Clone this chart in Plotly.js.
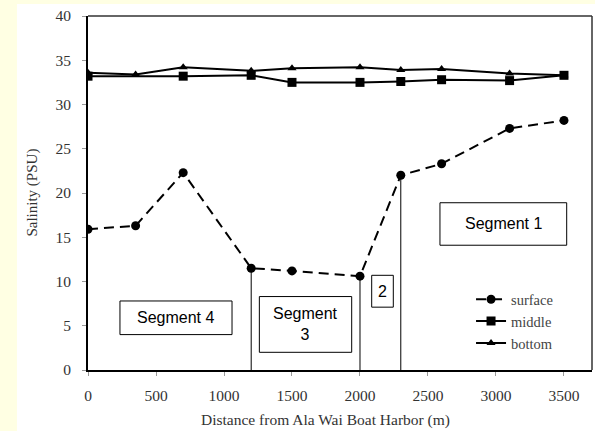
<!DOCTYPE html>
<html>
<head>
<meta charset="utf-8">
<script src="https://cdn.plot.ly/plotly-3.0.1.min.js"></script>
<style>html,body{margin:0;padding:0;background:#ffffe3;}</style>
</head>
<body>
<div id="chart" style="width:595px;height:431px;"></div>
<script>
// Data
const distance = [0, 350, 700, 1200, 1500, 2000, 2300, 2600, 3100, 3500];
const surface  = [15.9, 16.3, 22.3, 11.5, 11.2, 10.6, 22.0, 23.3, 27.3, 28.2];
const middleX  = [0, 700, 1200, 1500, 2000, 2300, 2600, 3100, 3500];
const middle   = [33.2, 33.2, 33.3, 32.5, 32.5, 32.6, 32.8, 32.7, 33.3];
const bottom   = [33.6, 33.4, 34.2, 33.8, 34.1, 34.2, 33.9, 34.0, 33.5, 33.3];
const boundaries = [1200, 2000, 2300];
const xTicks = [0, 500, 1000, 1500, 2000, 2500, 3000, 3500];
const yTicks = [0, 5, 10, 15, 20, 25, 30, 35, 40];
const segments = [
  {label: 'Segment 4', x0: 235, x1: 1059, y0: 4.0, y1: 7.8},
  {label: 'Segment<br>3', x0: 1260, x1: 1939, y0: 2.0, y1: 8.3},
  {label: '2', x0: 2086, x1: 2245, y0: 7.1, y1: 10.7},
  {label: 'Segment 1', x0: 2588, x1: 3520, y0: 14.1, y1: 18.9}
];

const serif = 'Liberation Serif, Times New Roman, serif';
const sans = 'Liberation Sans, Arial, sans-serif';

// boundary lines built from surface values
const bx = [], by = [];
boundaries.forEach(b => {
  const i = distance.indexOf(b);
  bx.push(b, b, null); by.push(0, surface[i], null);
});

const traces = [
  {x: bx, y: by, mode: 'lines', line: {color: '#000', width: 1}, showlegend: false, hoverinfo: 'skip'},
  {x: distance, y: surface, name: 'surface', legendgroup: 'a', mode: 'lines+markers',
   line: {color: '#000', width: 2, dash: '10px,6px'}, marker: {symbol: 'circle', size: 9, color: '#000'}},
  {x: middleX, y: middle, name: 'middle', legendgroup: 'b', mode: 'lines+markers',
   line: {color: '#000', width: 2}, marker: {symbol: 'square', size: 9, color: '#000'}},
  {x: distance, y: bottom, name: 'bottom', legendgroup: 'c', mode: 'lines+markers',
   line: {color: '#000', width: 2}, marker: {symbol: 'triangle-up', size: 8, color: '#000'}}
];

const shapes = [
  {type: 'rect', xref: 'paper', yref: 'paper', x0: -0.141, x1: 1.01, y0: -0.2, y1: 1.034,
   fillcolor: '#ffffff', line: {width: 0}, layer: 'below'},
  {type: 'line', xref: 'paper', yref: 'paper', x0: 0, x1: 1, y0: 1, y1: 1, line: {color: '#333', width: 1.5}},
  {type: 'line', xref: 'paper', yref: 'paper', x0: 1, x1: 1, y0: 0, y1: 1, line: {color: '#333', width: 1.5}}
];
const annotations = [];
segments.forEach(s => {
  shapes.push({type: 'rect', xref: 'x', yref: 'y', x0: s.x0, x1: s.x1, y0: s.y0, y1: s.y1,
    line: {color: '#000', width: 1}, fillcolor: '#fff'});
  annotations.push({xref: 'x', yref: 'y', x: (s.x0 + s.x1) / 2, y: (s.y0 + s.y1) / 2,
    text: s.label, showarrow: false, font: {family: sans, size: 16, color: '#000'}});
});
annotations.push({xref: 'x', yref: 'paper', x: 1750, y: -0.141, yanchor: 'middle',
  text: 'Distance from Ala Wai Boat Harbor (m)', showarrow: false,
  font: {family: serif, size: 15.5, color: '#333'}});
annotations.push({xref: 'paper', yref: 'paper', x: -0.112, y: 0.5, xanchor: 'center', textangle: -90,
  text: 'Salinity (PSU)', showarrow: false,
  font: {family: serif, size: 15, color: '#333'}});

const layout = {
  width: 595, height: 431,
  margin: {l: 88, r: 3, t: 16, b: 61},
  paper_bgcolor: '#ffffe3', plot_bgcolor: '#ffffff',
  showlegend: true,
  legend: {x: 0.76, y: 0.245, xanchor: 'left', yanchor: 'top', bgcolor: 'rgba(0,0,0,0)',
    font: {family: serif, size: 14.5, color: '#444'}, tracegroupgap: 0, itemwidth: 30},
  xaxis: {range: [0, 3706], tickvals: xTicks, ticktext: xTicks.map(String), showgrid: false, zeroline: false,
    showline: true, linecolor: '#000', linewidth: 2, ticks: 'outside', ticklen: 4, tickcolor: '#999',
    ticklabelstandoff: 6,
    tickfont: {family: serif, size: 15.5, color: '#333'}},
  yaxis: {range: [0, 40], tickvals: yTicks, ticktext: yTicks.map(String), showgrid: false, zeroline: false,
    showline: true, linecolor: '#000', linewidth: 2, ticks: 'outside', ticklen: 4, tickcolor: '#999',
    ticklabelstandoff: 8,
    tickfont: {family: serif, size: 15.5, color: '#333'}},
  shapes: shapes,
  annotations: annotations
};

Plotly.newPlot('chart', traces, layout, {displayModeBar: false, staticPlot: true});
</script>
</body>
</html>
